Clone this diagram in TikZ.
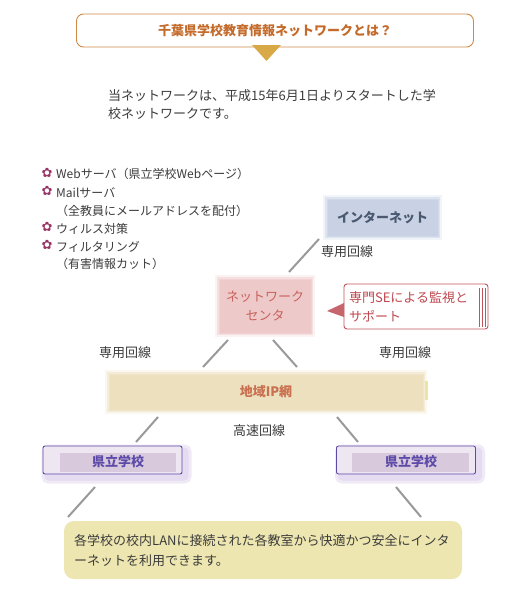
\documentclass[tikz,border=0pt]{standalone}
\usepackage{fontspec}
\setmainfont{Noto Sans CJK JP}
\newfontfamily\symf{DejaVu Sans}
\definecolor{titleC}{HTML}{D08A48}
\definecolor{titleT}{HTML}{C46A2A}
\definecolor{triC}{HTML}{D9A847}
\definecolor{bodyT}{HTML}{3C3C3C}
\definecolor{starC}{HTML}{993366}
\definecolor{inetC}{HTML}{C8D2E4}
\definecolor{inetT}{HTML}{4A5870}
\definecolor{ncC}{HTML}{EEC9C9}
\definecolor{ncT}{HTML}{C8625C}
\definecolor{callC}{HTML}{C0545A}
\definecolor{callT}{HTML}{C04850}
\definecolor{ipC}{HTML}{EDE0BF}
\definecolor{ipT}{HTML}{C87050}
\definecolor{ipBar}{HTML}{E8E6A0}
\definecolor{schB}{HTML}{5C4AA8}
\definecolor{schC}{HTML}{D9C9DD}
\definecolor{schL}{HTML}{EEE6F1}
\definecolor{schS}{HTML}{DCD0EC}
\definecolor{botC}{HTML}{EDE6B0}
\definecolor{lineC}{HTML}{9A9A9A}
\begin{document}
\begin{tikzpicture}[x=1pt,y=-1pt,
  txt/.style={inner sep=0pt, text=bodyT, font=\fontsize{13pt}{18pt}\selectfont},
  small/.style={inner sep=0pt, text=bodyT, font=\fontsize{12pt}{18pt}\selectfont},
  star/.style={inner sep=0pt, text=starC, font=\symf\fontsize{13pt}{13pt}\selectfont},
  soft/.style={fill=#1, draw=none,
     preaction={draw=#1!25!white, line width=9pt},
     preaction={draw=#1!60!white, line width=5pt},
     preaction={draw=#1!85!white, line width=2pt}},
  link/.style={draw=lineC, line width=2pt},
  school/.style={draw=schB, line width=0.9pt, rounded corners=2pt, fill=schL, minimum width=139pt, minimum height=28pt, inner sep=0pt,
     preaction={draw=schS!45!white, fill=schS!45!white, line width=11pt, transform canvas={shift={(4pt,-4pt)}}},
     preaction={draw=schS!75!white, fill=schS!75!white, line width=5pt, transform canvas={shift={(4pt,-4pt)}}}},
]
\useasboundingbox (0,0) rectangle (527,589);
\fill[white] (0,0) rectangle (527,589);

% title
\node[draw=titleC, line width=0.9pt, rounded corners=7pt, minimum width=397pt, minimum height=33pt, inner sep=0pt,
      text=titleT, font=\bfseries\fontsize{13pt}{16pt}\selectfont] (title) at (275,30.5) {千葉県学校教育情報ネットワークとは？};
\fill[triC] (252,45) -- (281,45) -- (266.5,61) -- cycle;

% intro paragraph
\node[txt, anchor=base west] (p1) at (108,100) {当ネットワークは、平成15年6月1日よりスタートした学};
\node[txt, anchor=base west] (p2) at (108,118) {校ネットワークです。};

% bullet list
\node[star] (s1) at (47,173) {✿};
\node[small, anchor=base west] (b1) at (56,178) {Webサーバ（県立学校Webページ）};
\node[star] (s2) at (47,191) {✿};
\node[small, anchor=base west] (b2) at (56,197) {Mailサーバ};
\node[small, anchor=base west] (b2b) at (56,215) {（全教員にメールアドレスを配付）};
\node[star] (s3) at (47,227) {✿};
\node[small, anchor=base west] (b3) at (56,233) {ウィルス対策};
\node[star] (s4) at (47,245) {✿};
\node[small, anchor=base west] (b4) at (56,251) {フィルタリング};
\node[small, anchor=base west] (b4b) at (56,268) {（有害情報カット）};

% internet
\node[soft=inetC, minimum width=110pt, minimum height=36pt, inner sep=0pt, text=inetT,
      font=\bfseries\fontsize{13pt}{16pt}\selectfont] (inet) at (382.5,217.5) {インターネット};

% network center
\node[soft=ncC, minimum width=91pt, minimum height=53pt, inner sep=0pt, text=ncT, align=center,
      font=\fontsize{13pt}{19pt}\selectfont] (nc) at (265,306) {ネットワーク\\センタ};

% callout
\node[draw=callC, line width=0.9pt, rounded corners=3pt, minimum width=144pt, minimum height=45pt,
      text width=134pt, inner xsep=5pt, inner ysep=0pt, align=left, text=callT,
      font=\fontsize{13pt}{19pt}\selectfont] (call) at (416,306.5) {専門SEによる監視と\\サポート};
\fill[callC!90!white] (344,303) -- (327,311) -- (344,317) -- cycle;
\draw[callC, line width=0.8pt] (479,288) -- (479,327) (482,288) -- (482,327) (485,288) -- (485,327);

% regional IP network
\node[soft=ipC, minimum width=313pt, minimum height=35pt, inner sep=0pt, text=ipT,
      font=\bfseries\fontsize{13pt}{16pt}\selectfont] (ip) at (266,392) {地域IP網};
\fill[ipBar] (425,381) rectangle (428,400);

% schools
\node[school] (sch1) at (112.5,460) {};
\fill[schC] (60,453) rectangle (176,472);
\node[inner sep=0pt, text=schB, font=\bfseries\fontsize{13pt}{16pt}\selectfont] (sch1t) at (118,462) {県立学校};
\node[school] (sch2) at (406,460) {};
\fill[schC] (352,453) rectangle (469,472);
\node[inner sep=0pt, text=schB, font=\bfseries\fontsize{13pt}{16pt}\selectfont] (sch2t) at (411,462) {県立学校};

% bottom box
\node[fill=botC, rounded corners=10pt, minimum width=398pt, minimum height=58pt, inner sep=0pt] (bot) at (263,550) {};
\node[txt, anchor=base west] (t1) at (74,545) {各学校の校内LANに接続された各教室から快適かつ安全にインタ};
\node[txt, anchor=base west] (t2) at (74,565) {ーネットを利用できます。};

% connector end points
\coordinate (c1a) at (319,239); \coordinate (c1b) at (289,272);
\coordinate (c2a) at (228,340); \coordinate (c2b) at (203,367);
\coordinate (c3a) at (273,340); \coordinate (c3b) at (297,367);
\coordinate (c4a) at (158,417); \coordinate (c4b) at (136,442);
\coordinate (c5a) at (337,417); \coordinate (c5b) at (358,442);
\coordinate (c6a) at (95,487);  \coordinate (c6b) at (68,517);
\coordinate (c7a) at (396,487); \coordinate (c7b) at (421,517);
\draw[link] (c1a) -- (c1b);
\draw[link] (c2a) -- (c2b);
\draw[link] (c3a) -- (c3b);
\draw[link] (c4a) -- (c4b);
\draw[link] (c5a) -- (c5b);
\draw[link] (c6a) -- (c6b);
\draw[link] (c7a) -- (c7b);

% line labels
\node[txt] (l1) at (347,252) {専用回線};
\node[txt] (l2) at (125,353) {専用回線};
\node[txt] (l3) at (405,353) {専用回線};
\node[txt] (l4) at (259,431) {高速回線};
\end{tikzpicture}
\end{document}
